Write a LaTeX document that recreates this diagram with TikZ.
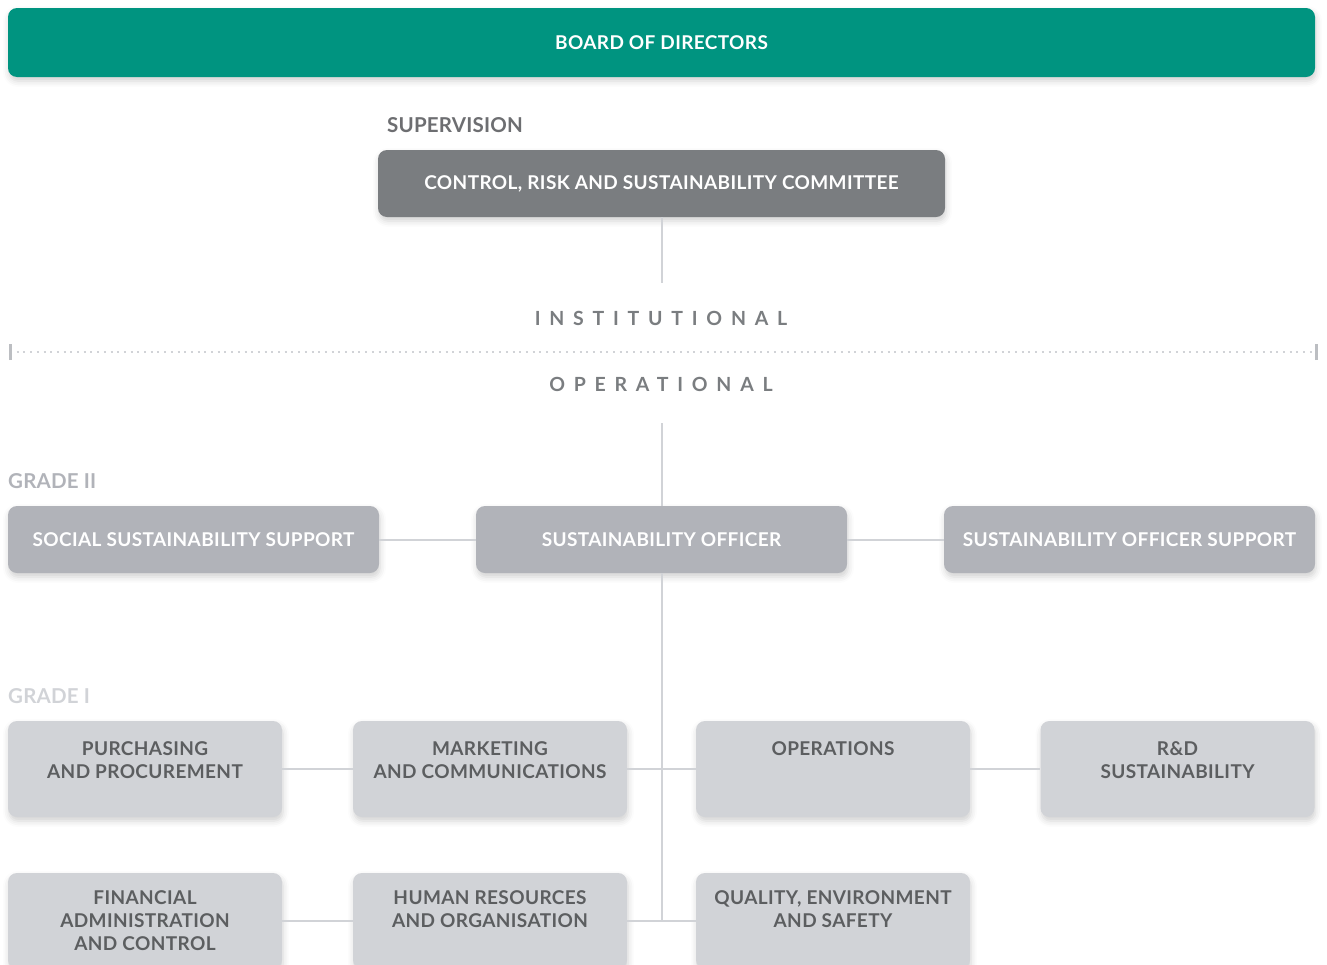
\documentclass[tikz,border=0pt]{standalone}
\usepackage{fontspec}
\setmainfont{Lato}
\usetikzlibrary{positioning,shadows.blur}

\definecolor{boardgreen}{RGB}{0,148,128}
\definecolor{crscgrey}{RGB}{122,125,128}
\definecolor{gradetwo}{RGB}{177,179,185}
\definecolor{gradeone}{RGB}{209,211,215}
\definecolor{linegrey}{RGB}{209,211,215}
\definecolor{textgrey}{RGB}{92,94,96}
\definecolor{labelgrey}{RGB}{109,110,113}

\newcommand{\boxfont}{\fontsize{19}{23}\selectfont\bfseries\addfontfeature{LetterSpace=2}}
\newcommand{\tagfont}{\fontsize{20.5}{24}\selectfont\bfseries\addfontfeature{LetterSpace=1}}
\newcommand{\toptext}[2][21pt]{\parbox[c][96pt][t]{274pt}{\centering\vspace*{#1}#2}}
\newcommand{\spaced}[1]{{\fontsize{19.5}{22}\selectfont\addfontfeature{LetterSpace=45}#1}}

\begin{document}
\begin{tikzpicture}[x=1pt,y=-1pt,
    every node/.style={font=\boxfont},
    card/.style={rectangle,rounded corners=9pt,inner sep=0pt,
      blur shadow={shadow xshift=1pt,shadow yshift=-4pt,shadow blur radius=6pt,shadow opacity=18}},
    board/.style={card,fill=boardgreen,text=white,minimum width=1307pt,minimum height=69pt},
    committee/.style={card,fill=crscgrey,text=white,minimum width=567pt,minimum height=67pt},
    gradetwo box/.style={card,fill=gradetwo,text=white,minimum width=371pt,minimum height=67pt},
    gradeone box/.style={card,fill=gradeone,text=textgrey},
    tag/.style={anchor=west,inner sep=0pt,font=\tagfont},
    conn/.style={draw=linegrey,line width=2pt}]

  \useasboundingbox (0,0) rectangle (1327,964);

  \node[board] (bod) at (661.5,42.5) {BOARD OF DIRECTORS};

  \node[tag,text=labelgrey] (sup) at (387,125.5) {SUPERVISION};
  \node[committee] (crsc) at (661.5,183.5) {CONTROL, RISK AND SUSTAINABILITY COMMITTEE};
  \coordinate (crscend) at (661.5,283);

  \node[text=crscgrey,font=\bfseries] (inst) at (661,318) {\spaced{INSTITUTIONAL}};
  \coordinate (sepl) at (10,352);
  \coordinate (sepr) at (1316,352);
  \node[text=crscgrey,font=\bfseries] (oper) at (661,384) {\spaced{OPERATIONAL}};
  \coordinate (opertop) at (661.5,423);

  % grade II
  \node[tag,text=gradetwo] (g2) at (8,481.5) {GRADE II};
  \node[gradetwo box] (social) at (193.5,539.5) {SOCIAL SUSTAINABILITY SUPPORT};
  \node[gradetwo box] (officer) at (661.5,539.5) {SUSTAINABILITY OFFICER};
  \node[gradetwo box] (support) at (1129.5,539.5) {SUSTAINABILITY OFFICER SUPPORT};

  % grade I
  \node[tag,text=gradeone] (g1) at (8,696.5) {GRADE I};
  \node[gradeone box] (purch) at (145,769) {\toptext{PURCHASING\\AND PROCUREMENT}};
  \node[gradeone box] (mark) at (490,769) {\toptext{MARKETING\\AND COMMUNICATIONS}};
  \node[gradeone box] (ops) at (833,769) {\toptext{OPERATIONS}};
  \node[gradeone box] (rnd) at (1177.5,769) {\toptext{R\&D\\SUSTAINABILITY}};
  \node[gradeone box] (fin) at (145,921) {\toptext[18pt]{FINANCIAL\\ADMINISTRATION\\AND CONTROL}};
  \node[gradeone box] (hr) at (490,921) {\toptext[18pt]{HUMAN RESOURCES\\AND ORGANISATION}};
  \node[gradeone box] (qes) at (833,921) {\toptext[18pt]{QUALITY, ENVIRONMENT\\AND SAFETY}};
  \coordinate (trunkend) at (661.5,920);

  % separator
  \draw[linegrey,line width=2pt,dash pattern=on 2pt off 4.7pt] (sepl) -- (sepr);
  \draw[linegrey!90!black,line width=3pt] ([yshift=-8pt]sepl) -- ([yshift=8pt]sepl);
  \draw[linegrey!90!black,line width=3pt] ([yshift=-8pt]sepr) -- ([yshift=8pt]sepr);

  \path[conn]
    (crsc) -- (crscend)
    (opertop) -- (officer)
    (social) -- (officer)
    (officer) -- (support)
    (officer) -- (trunkend)
    (purch) -- (mark)
    (mark) -- (ops)
    (ops) -- (rnd)
    (fin) -- (hr)
    (hr) -- (qes);

\end{tikzpicture}
\end{document}
